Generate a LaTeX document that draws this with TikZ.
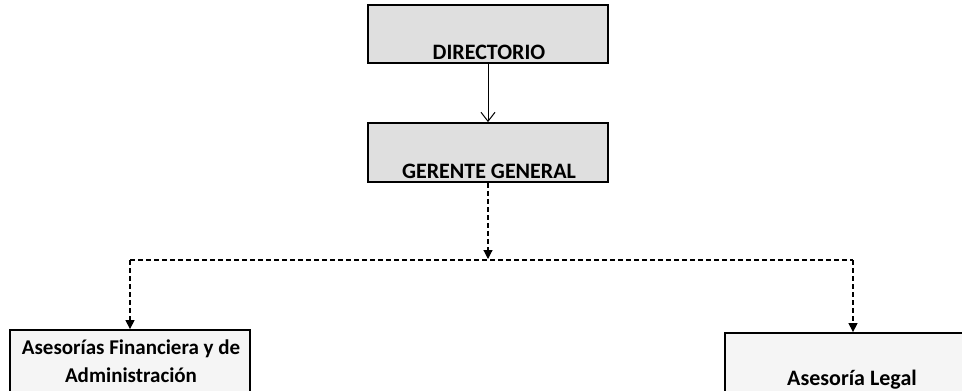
\documentclass[tikz,border=0pt]{standalone}
\usepackage{fontspec}
\setmainfont{Carlito}
\usetikzlibrary{arrows.meta}
\begin{document}
\begin{tikzpicture}[x=1pt,y=-1pt,
  topbox/.style={draw=black,line width=1.8pt,fill=gray!25,minimum width=240pt,inner sep=0pt},
  lowbox/.style={draw=black,line width=1.8pt,fill=gray!8,inner sep=0pt},
  toptext/.style={font=\bfseries\fontsize{22}{26}\selectfont,inner sep=0pt},
  lowtext/.style={font=\bfseries\fontsize{21}{28}\selectfont,inner sep=0pt,align=center},
  solidarrow/.style={line width=1pt,-{Straight Barb[length=9pt,width=14pt,line width=1pt]}},
  dasharrow/.style={line width=1.2pt,dash pattern=on 5pt off 3pt,-{Triangle[length=9pt,width=9pt]}},
  dashline/.style={line width=1.2pt,dash pattern=on 5pt off 3pt}]
\clip (0,0) rectangle (962,391);
\fill[white] (0,0) rectangle (962,391);
\node[topbox,minimum height=58pt] (dir) at (488,34) {};
\node[toptext,anchor=base] (dirt) at (489,59) {DIRECTORIO};
\node[topbox,minimum height=59pt] (ger) at (488,152.5) {};
\node[toptext,anchor=base] (gert) at (489,178) {GERENTE GENERAL};
\node[lowbox,minimum width=240pt,minimum height=90pt] (fin) at (130,375) {};
\node[lowtext,anchor=north] (fint) at (131,340) {Asesorías Financiera y de\\Administración};
\node[lowbox,minimum width=250pt,minimum height=90pt] (leg) at (850,378) {};
\node[font=\bfseries\fontsize{22}{26}\selectfont,inner sep=0pt,anchor=base] (legt) at (852,385) {Asesoría Legal};
\coordinate (hub) at (488,259);
\coordinate (hl) at (130,260);
\coordinate (hr) at (853,260);
\draw[solidarrow] (dir.south) -- (ger.north);
\draw[dasharrow] (ger.south) -- (hub);
\draw[dashline] (hl) -- (hr);
\draw[dasharrow] (hl) -- (fin.north);
\draw[dasharrow] (hr) -- (hr |- leg.north);
\end{tikzpicture}
\end{document}
